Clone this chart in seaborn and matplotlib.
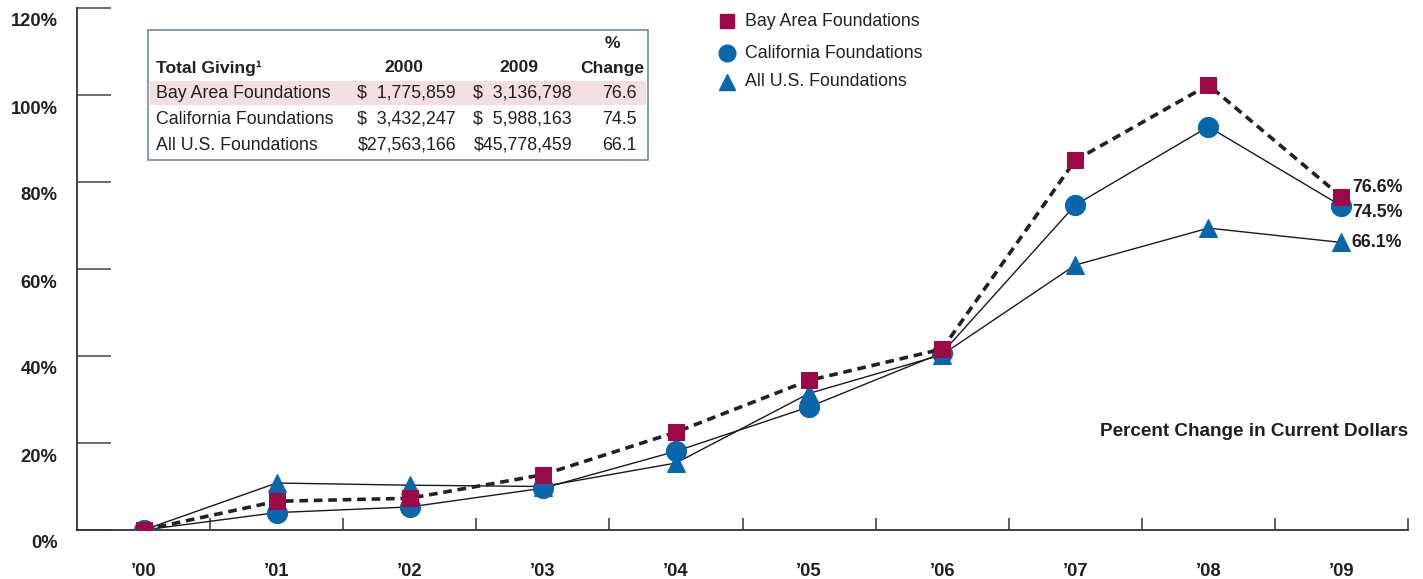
import matplotlib
matplotlib.use("Agg")
import matplotlib.pyplot as plt
import matplotlib.transforms as mtransforms
from matplotlib.patches import Rectangle
import seaborn as sns
import pandas as pd

# chart data
years = ["’00", "’01", "’02", "’03", "’04", "’05", "’06", "’07", "’08", "’09"]
bay_area = [0, 6.6, 7.3, 12.7, 22.5, 34.4, 41.6, 85.0, 102.3, 76.6]
california = [0, 4.0, 5.3, 9.6, 18.1, 28.3, 40.7, 74.7, 92.7, 74.5]
all_us = [0, 10.8, 10.3, 10.0, 15.4, 31.4, 40.3, 60.9, 69.4, 66.1]
end_labels = ["76.6%", "74.5%", "66.1%"]

series_names = ["Bay Area Foundations", "California Foundations", "All U.S. Foundations"]
y_ticks = [0, 20, 40, 60, 80, 100, 120]

# table data (figure space keeps the $ signs lined up)
table_header = ["Total Giving¹", "2000", "2009", "%", "Change"]
giving_2000 = ["$\u20071,775,859", "$\u20073,432,247", "$27,563,166"]
giving_2009 = ["$\u20073,136,798", "$\u20075,988,163", "$45,778,459"]
pct_change = ["76.6", "74.5", "66.1"]

MAROON = "#9b0a47"
BLUE = "#0767a9"
TEXT = "#231f20"
W, H = 1423, 579
FS = 12.8

sns.set_theme(style="white")
plt.rcParams["font.family"] = ["Liberation Sans", "DejaVu Sans"]

fig = plt.figure(figsize=(W / 100, H / 100), dpi=100)
ax = fig.add_axes([77 / W, (H - 530) / H, (1408 - 77) / W, (530 - 8) / H])


def px(x, y):
    # pixel position (from top-left) to figure fraction
    return x / W, (H - y) / H


df = pd.DataFrame({"x": list(range(len(years))), "bay": bay_area, "cal": california, "us": all_us})

sns.lineplot(data=df, x="x", y="us", ax=ax, color="#1a1a1a", lw=1.0, zorder=2,
             marker="^", markersize=13, markerfacecolor=BLUE, markeredgecolor=BLUE)
sns.lineplot(data=df, x="x", y="cal", ax=ax, color="#1a1a1a", lw=1.0, zorder=3,
             marker="o", markersize=14.5, markerfacecolor=BLUE, markeredgecolor=BLUE)
sns.lineplot(data=df, x="x", y="bay", ax=ax, color="#222222", lw=2.6, zorder=4,
             linestyle=(0, (2.4, 1.6)),
             marker="s", markersize=12, markerfacecolor=MAROON, markeredgecolor=MAROON)
for line in ax.lines:
    line.set_dash_capstyle("butt")

ax.set_xlim(-0.5, 9.5)
ax.set_ylim(0, 120)
ax.set_xlabel("")
ax.set_ylabel("")

for s in ["top", "right"]:
    ax.spines[s].set_visible(False)
for s in ["left", "bottom"]:
    ax.spines[s].set_color("#333333")
    ax.spines[s].set_linewidth(1.3)

ax.set_yticks(y_ticks)
ax.set_yticklabels([f"{v}%" for v in y_ticks], fontsize=13.2, fontweight="bold", color=TEXT)
ax.tick_params(axis="y", direction="in", length=24.5, width=1.1, color="#444444", pad=14, left=True)
shift = mtransforms.ScaledTranslation(0, -12 / 100, fig.dpi_scale_trans)
for lab in ax.get_yticklabels():
    lab.set_transform(lab.get_transform() + shift)

ax.set_xticks(range(len(years)))
ax.set_xticklabels(years, fontsize=13.2, fontweight="bold", color=TEXT)
ax.set_xticks([i + 0.5 for i in range(len(years))], minor=True)
ax.tick_params(axis="x", which="major", length=0, pad=24)
ax.tick_params(axis="x", which="minor", direction="in", length=8.6, width=1.1, color="#333333", bottom=True)

# end-of-line labels
for val, lab, dy in zip([bay_area[-1], california[-1], all_us[-1]], end_labels, [6.5, -4.5, 0]):
    ax.annotate(lab, (9, val), xytext=(7.5, dy), textcoords="offset points",
                ha="left", va="center", fontsize=FS, fontweight="bold", color=TEXT)

fig.text(*px(1408, 432), "Percent Change in Current Dollars", ha="right", va="center",
         fontsize=13.6, fontweight="bold", color=TEXT)

# legend
legend_markers = [("s", MAROON, 10.5), ("o", BLUE, 12), ("^", BLUE, 11.5)]
for i, (name, (mk, col, ms)) in enumerate(zip(series_names, legend_markers)):
    yy = [21, 53, 82][i]
    fig.add_artist(plt.Line2D([727 / W], [(H - yy) / H], marker=mk, markersize=ms,
                              color=col, linestyle="none", transform=fig.transFigure))
    fig.text(*px(745, yy), name, ha="left", va="center", fontsize=FS, color=TEXT)

# inset table
fig.add_artist(Rectangle(px(148, 160), 500 / W, 130 / H, transform=fig.transFigure,
                         fill=False, edgecolor="#6f8aa6", lw=1.2))
fig.add_artist(Rectangle(px(150, 105), 496 / W, 24 / H, transform=fig.transFigure,
                         facecolor="#f3dfe2", edgecolor="none"))
hdr = dict(va="center", fontsize=12.6, fontweight="bold", color=TEXT)
fig.text(*px(156, 68), table_header[0], ha="left", **hdr)
fig.text(*px(404, 68), table_header[1], ha="center", **hdr)
fig.text(*px(519, 68), table_header[2], ha="center", **hdr)
fig.text(*px(612, 44), table_header[3], ha="center", **hdr)
fig.text(*px(612, 68), table_header[4], ha="center", **hdr)
for i, name in enumerate(series_names):
    yy = [93, 119, 145][i]
    fig.text(*px(156, yy), name, ha="left", va="center", fontsize=FS, color=TEXT)
    fig.text(*px(456, yy), giving_2000[i], ha="right", va="center", fontsize=FS, color=TEXT)
    fig.text(*px(572, yy), giving_2009[i], ha="right", va="center", fontsize=FS, color=TEXT)
    fig.text(*px(637, yy), pct_change[i], ha="right", va="center", fontsize=FS, color=TEXT)

fig.savefig("out.png", dpi=100)
